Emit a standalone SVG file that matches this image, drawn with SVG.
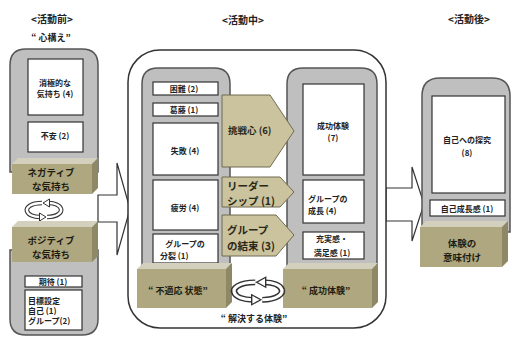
<svg xmlns="http://www.w3.org/2000/svg" width="513" height="338" viewBox="0 0 513 338">
<defs>
<style>
text{font-family:"Noto Sans CJK JP","Noto Sans",sans-serif;font-weight:bold;fill:#222;dominant-baseline:central}
.t{font-size:10px;text-anchor:middle}
.s{font-size:8px;text-anchor:middle}
.sl{font-size:8px;text-anchor:start}
.o{font-size:9.5px;text-anchor:middle;fill:#1e1c10}
.c{font-size:10px;text-anchor:start;fill:#2a2818}
.panel{fill:#bfbfbf;stroke:#555;stroke-width:1.5}
.box{fill:#fff;stroke:#333;stroke-width:1.2}
.front{fill:#aea77f}
.top{fill:#d3d0bd}
.side{fill:#8e8866}
.chev{fill:#cbc39d;stroke:#6e6a50;stroke-width:1}
.big{fill:#fff;stroke:#333;stroke-width:1.5}
.arr{fill:#fff;stroke:#333;stroke-width:1.2}
.sw1{fill:none;stroke:#333;stroke-width:4.6;stroke-linecap:butt}
.sw2{fill:none;stroke:#fff;stroke-width:2.4}
.swh{fill:#fff;stroke:#333;stroke-width:1}
</style>
<g id="swirl">
<path class="sw1" d="M-2,-7 C-14,-7 -18,-2 -17,1 C-16,5 -10,7 -4,7"/>
<path class="sw2" d="M-2,-7 C-14,-7 -18,-2 -17,1 C-16,5 -10,7 -4,7"/>
<polygon class="swh" points="-4.5,3 2,7 -4.5,11"/>
<path class="sw1" d="M3,7 C14,7 18,2 17,-1 C16,-5 10,-7 5,-7"/>
<path class="sw2" d="M3,7 C14,7 18,2 17,-1 C16,-5 10,-7 5,-7"/>
<polygon class="swh" points="5.5,-11 -1,-7 5.5,-3"/>
</g>
</defs>
<rect width="513" height="338" fill="#fff"/>

<g id="titles">
<text class="t" x="52" y="18">&lt;活動前&gt;</text>
<text class="t" x="51" y="37" style="font-size:9px">“ 心構え”</text>
<text class="t" x="243" y="19">&lt;活動中&gt;</text>
<text class="t" x="469" y="18">&lt;活動後&gt;</text>
</g>

<g id="connectors">
<path class="arr" d="M98,195 H117 V163 L130,209 L117,255 V222 H98 Z"/>
<path class="arr" d="M386,188 H412 V167 L424,204 L412,241 V221 H386 Z"/>
</g>

<g id="before">
<path class="panel" d="M10,172 V65 Q10,49 26,49 H82 Q98,49 98,65 V172 Z"/>
<path class="panel" d="M10,250 V319 Q10,335 26,335 H82 Q98,335 98,319 V250 Z"/>
<g id="n-shokyoku"><rect class="box" x="28" y="59" width="55" height="56"/>
<text class="s" x="55" y="82">消極的な</text><text class="s" x="55" y="93">気持ち (4)</text></g>
<g id="n-fuan"><rect class="box" x="28" y="122" width="55" height="30"/>
<text class="s" x="55" y="135">不安 (2)</text></g>
<g id="n-negative">
<rect class="front" x="12" y="164" width="80" height="30"/>
<polygon class="top" points="12,164 18,158 98,158 92,164"/>
<polygon class="side" points="92,164 98,158 98,188 92,194"/>
<text class="o" x="51" y="172">ネガティブ</text><text class="o" x="51" y="185.5">な気持ち</text></g>
<use href="#swirl" transform="translate(44,210)"/>
<g id="n-positive">
<rect class="front" x="12" y="227" width="80" height="35"/>
<polygon class="top" points="12,227 18,221 98,221 92,227"/>
<polygon class="side" points="92,227 98,221 98,256 92,262"/>
<text class="o" x="51" y="240">ポジティブ</text><text class="o" x="51" y="254">な気持ち</text></g>
<g id="n-kitai"><rect class="box" x="25" y="276" width="57" height="11"/>
<text class="s" x="53" y="281.5">期待 (1)</text></g>
<g id="n-mokuhyo"><rect class="box" x="25" y="290" width="57" height="40"/>
<text class="sl" x="28" y="300">目標設定</text><text class="sl" x="28" y="310">自己 (1)</text><text class="sl" x="28" y="320">グループ(2)</text></g>
</g>

<g id="during">
<rect class="big" x="128" y="50" width="258" height="278" rx="32"/>
<path class="panel" d="M142,280 V84 Q142,68 158,68 H214 Q230,68 230,84 V280 Z"/>
<path class="panel" d="M287,280 V84 Q287,68 303,68 H361 Q377,68 377,84 V280 Z"/>
<g id="n-konnan"><rect class="box" x="153" y="82" width="65" height="13"/>
<text class="s" x="184" y="88.5">困難 (2)</text></g>
<g id="n-katto"><rect class="box" x="153" y="103" width="65" height="13"/>
<text class="s" x="184" y="109.5">葛藤 (1)</text></g>
<g id="n-shippai"><rect class="box" x="153" y="123" width="65" height="52"/>
<text class="s" x="185" y="150">失敗 (4)</text></g>
<g id="n-hiro"><rect class="box" x="153" y="180" width="65" height="50"/>
<text class="s" x="185" y="207">疲労 (4)</text></g>
<g id="n-bunretsu"><rect class="box" x="153" y="234" width="65" height="29"/>
<text class="s" x="185" y="243">グループの</text><text class="sl" x="160" y="255">分裂 (1)</text></g>
<g id="n-futekio">
<rect class="front" x="137" y="269" width="89" height="39"/>
<polygon class="top" points="137,269 143,263 232,263 226,269"/>
<polygon class="side" points="226,269 232,263 232,302 226,308"/>
<text class="o" x="178" y="290" style="font-size:9px">“ 不適応 状態”</text></g>
<g id="n-seiko7"><rect class="box" x="303" y="84" width="61" height="91"/>
<text class="s" x="333" y="125">成功体験</text><text class="s" x="333" y="137">(7)</text></g>
<g id="n-seicho"><rect class="box" x="303" y="180" width="61" height="43"/>
<text class="sl" x="308" y="198">グループの</text><text class="sl" x="308" y="210">成長 (4)</text></g>
<g id="n-jujitsu"><rect class="box" x="303" y="232" width="61" height="27"/>
<text class="s" x="332" y="238.5">充実感・</text><text class="s" x="332" y="252">満足感 (1)</text></g>
<g id="n-seikotaiken">
<rect class="front" x="283" y="269" width="89" height="39"/>
<polygon class="top" points="283,269 289,263 378,263 372,269"/>
<polygon class="side" points="372,269 378,263 378,302 372,308"/>
<text class="o" x="326" y="290" style="font-size:9px">“ 成功体験”</text></g>
<g id="n-chosen"><polygon class="chev" points="222,95 270,95 294,131 270,167 222,167"/>
<text class="c" x="228" y="130" style="font-size:9.5px">挑戦心 (6)</text></g>
<g id="n-leader"><polygon class="chev" points="222,177 280,177 294,192 280,207 222,207"/>
<text class="c" x="227" y="185" style="font-size:10.5px">リーダー</text><text class="c" x="227" y="200" style="font-size:10.5px">シップ (1)</text></g>
<g id="n-kessoku"><polygon class="chev" points="222,215 276,215 294,235 276,256 222,256"/>
<text class="c" x="227" y="229" style="font-size:10.5px">グループ</text><text class="c" x="227" y="245" style="font-size:10.5px">の結束 (3)</text></g>
<use href="#swirl" transform="translate(258,291) scale(1.4,1.25)"/>
<text class="t" x="254" y="318" style="font-size:9px">“ 解決する体験”</text>
</g>

<g id="after">
<path class="panel" d="M422,232 V96 Q422,78 440,78 H492 Q510,78 510,96 V232 Z"/>
<g id="n-tankyu"><rect class="box" x="432" y="96" width="73" height="97"/>
<text class="s" x="467" y="139">自己への探究</text><text class="s" x="467" y="152">(8)</text></g>
<g id="n-seichokan"><rect class="box" x="430" y="200" width="75" height="16"/>
<text class="s" x="467" y="208">自己成長感 (1)</text></g>
<g id="n-imi">
<rect class="front" x="420" y="227" width="82" height="40"/>
<polygon class="top" points="420,227 426,221 508,221 502,227"/>
<polygon class="side" points="502,227 508,221 508,261 502,267"/>
<text class="o" x="462" y="243">体験の</text><text class="o" x="462" y="257">意味付け</text></g>
</g>
</svg>
